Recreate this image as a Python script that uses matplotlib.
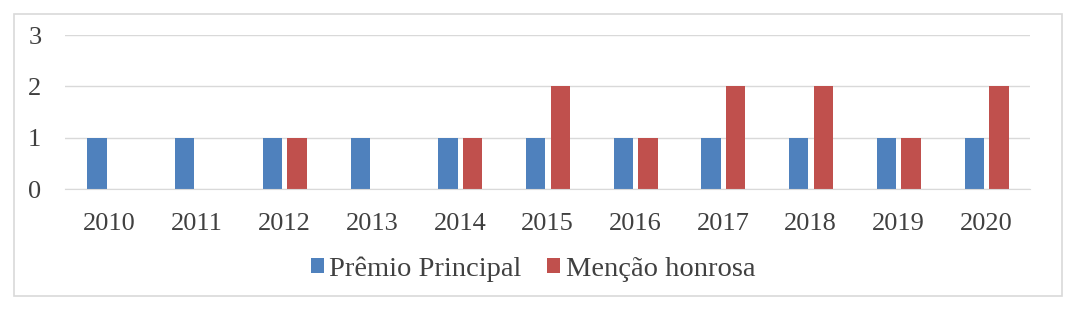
import matplotlib
matplotlib.use("Agg")
import matplotlib.pyplot as plt
import matplotlib.patches as mpatches
import numpy as np

anos = ["2010", "2011", "2012", "2013", "2014", "2015", "2016", "2017", "2018", "2019", "2020"]
premio_principal = [1, 1, 1, 1, 1, 1, 1, 1, 1, 1, 1]
mencao_honrosa = [0, 0, 1, 0, 1, 2, 1, 2, 2, 1, 2]

plt.rcParams["font.family"] = ["Liberation Serif", "DejaVu Serif"]

fig = plt.figure(figsize=(10.75, 3.16), dpi=100)
# moldura do grafico
fig.patches.append(mpatches.Rectangle((14 / 1075, 20 / 316), 1048 / 1075, 282 / 316,
                                      transform=fig.transFigure, fill=False,
                                      edgecolor="#d9d9d9", linewidth=1.2))

ax = fig.add_axes([65 / 1075, 127 / 316, 965 / 1075, 154 / 316])
x = np.arange(len(anos))
largura = 0.22
ax.bar(x - 0.135, premio_principal, largura, color="#4f81bd", label="Prêmio Principal")
ax.bar(x + 0.145, mencao_honrosa, largura, color="#c0504d", label="Menção honrosa")

ax.set_xlim(-0.5, len(anos) - 0.5)
ax.set_ylim(0, 3)
ax.set_yticks([0, 1, 2, 3])
ax.set_xticks(x)
ax.set_xticklabels(anos)
ax.yaxis.grid(True, color="#d9d9d9", linewidth=1)
ax.set_axisbelow(True)
for s in ["top", "right", "left"]:
    ax.spines[s].set_visible(False)
ax.spines["bottom"].set_color("#d9d9d9")
ax.tick_params(length=0, labelsize=19, colors="#404040")
ax.tick_params(axis="x", pad=17)
ax.tick_params(axis="y", pad=17)

fig.legend(loc="center", bbox_to_anchor=(533 / 1075, 47 / 316), ncol=2, frameon=False,
           fontsize=20.5, handlelength=0.45, handleheight=0.45, handletextpad=0.2,
           columnspacing=0.9, labelcolor="#404040")

fig.savefig("out.png", dpi=100, facecolor="white")
